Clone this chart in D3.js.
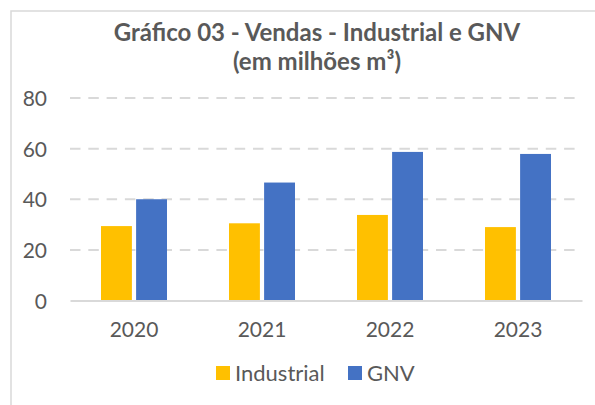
<!DOCTYPE html>
<html>
<head>
<meta charset="utf-8">
<script src="https://cdn.jsdelivr.net/npm/d3@7"></script>
<style>
  body { margin: 0; background: #fff; }
  svg { display: block; font-family: Lato, "Open Sans", sans-serif; }
</style>
</head>
<body>
<div class="chart"></div>
<script>
// Data
const years = ["2020", "2021", "2022", "2023"];
const seriesNames = ["Industrial", "GNV"];
const industrial = [29.4, 30.5, 33.8, 29.0];
const gnv = [40.0, 46.6, 58.7, 57.9];
const yTicks = [0, 20, 40, 60, 80];
const colors = ["#FFC000", "#4472C4"];

const width = 595, height = 405;
const plot = {left: 70, right: 582, top: 98, bottom: 300.5};

const svg = d3.select(".chart").append("svg")
  .attr("width", width)
  .attr("height", height);

// chart frame (cut off at right/bottom)
svg.append("rect")
  .attr("x", 11).attr("y", 11)
  .attr("width", 600).attr("height", 420)
  .attr("fill", "#fff")
  .attr("stroke", "#d9d9d9")
  .attr("stroke-width", 1.5);

// Title
const title = svg.append("text")
  .attr("text-anchor", "middle")
  .attr("fill", "#595959")
  .attr("font-weight", "bold")
  .attr("font-size", 24);
title.append("tspan").attr("x", 317).attr("y", 41).text("Gráfico 03 - Vendas - Industrial e GNV");
title.append("tspan").attr("x", 317).attr("y", 70).text("(em milhões m³)");

// Scales
const x0 = d3.scaleBand().domain(years).range([plot.left, plot.right]).paddingInner(0).paddingOuter(0);
const x1 = d3.scaleBand().domain(seriesNames).range([31, x0.bandwidth() - 31]).paddingInner(0.12);
const y = d3.scaleLinear().domain([0, 80]).range([plot.bottom, plot.top]);

// Gridlines
svg.append("g").selectAll("line")
  .data(yTicks.filter(d => d > 0))
  .join("line")
  .attr("x1", plot.left).attr("x2", plot.right)
  .attr("y1", d => y(d)).attr("y2", d => y(d))
  .attr("stroke", "#d9d9d9")
  .attr("stroke-width", 2)
  .attr("stroke-dasharray", "10.5,7.8");

// Y axis labels
const yAxis = d3.axisLeft(y).tickValues(yTicks).tickSize(0).tickPadding(0);
const gy = svg.append("g")
  .attr("transform", `translate(47,0)`)
  .call(yAxis);
gy.select(".domain").remove();
gy.selectAll("text")
  .attr("fill", "#595959")
  .attr("font-size", 21)
  .attr("font-family", "Lato, sans-serif")
  .attr("dy", "0.36em");

// Bars
const rows = years.map((yr, i) => ({year: yr, values: [industrial[i], gnv[i]]}));
const groups = svg.append("g").selectAll("g")
  .data(rows)
  .join("g")
  .attr("transform", d => `translate(${x0(d.year)},0)`);
groups.selectAll("rect")
  .data(d => d.values.map((v, j) => ({name: seriesNames[j], value: v, color: colors[j]})))
  .join("rect")
  .attr("x", d => x1(d.name))
  .attr("width", x1.bandwidth())
  .attr("y", d => y(d.value))
  .attr("height", d => y(0) - y(d.value))
  .attr("fill", d => d.color);

// X axis
const xAxis = d3.axisBottom(x0).tickSize(0).tickPadding(0);
const gx = svg.append("g")
  .attr("transform", `translate(0,${plot.bottom})`)
  .call(xAxis);
gx.select(".domain")
  .attr("stroke", "#d9d9d9")
  .attr("stroke-width", 2);
gx.selectAll("text")
  .attr("fill", "#595959")
  .attr("font-size", 21)
  .attr("font-family", "Lato, sans-serif")
  .attr("y", 36)
  .attr("dy", 0);

// Legend
const legendItems = [
  {name: seriesNames[0], color: colors[0], x: 216},
  {name: seriesNames[1], color: colors[1], x: 348}
];
const legend = svg.append("g").selectAll("g")
  .data(legendItems)
  .join("g")
  .attr("transform", d => `translate(${d.x},366)`);
legend.append("rect")
  .attr("width", 14).attr("height", 14)
  .attr("fill", d => d.color);
legend.append("text")
  .attr("x", 19).attr("y", 14.5)
  .attr("fill", "#595959")
  .attr("font-size", 22)
  .text(d => d.name);
</script>
</body>
</html>
